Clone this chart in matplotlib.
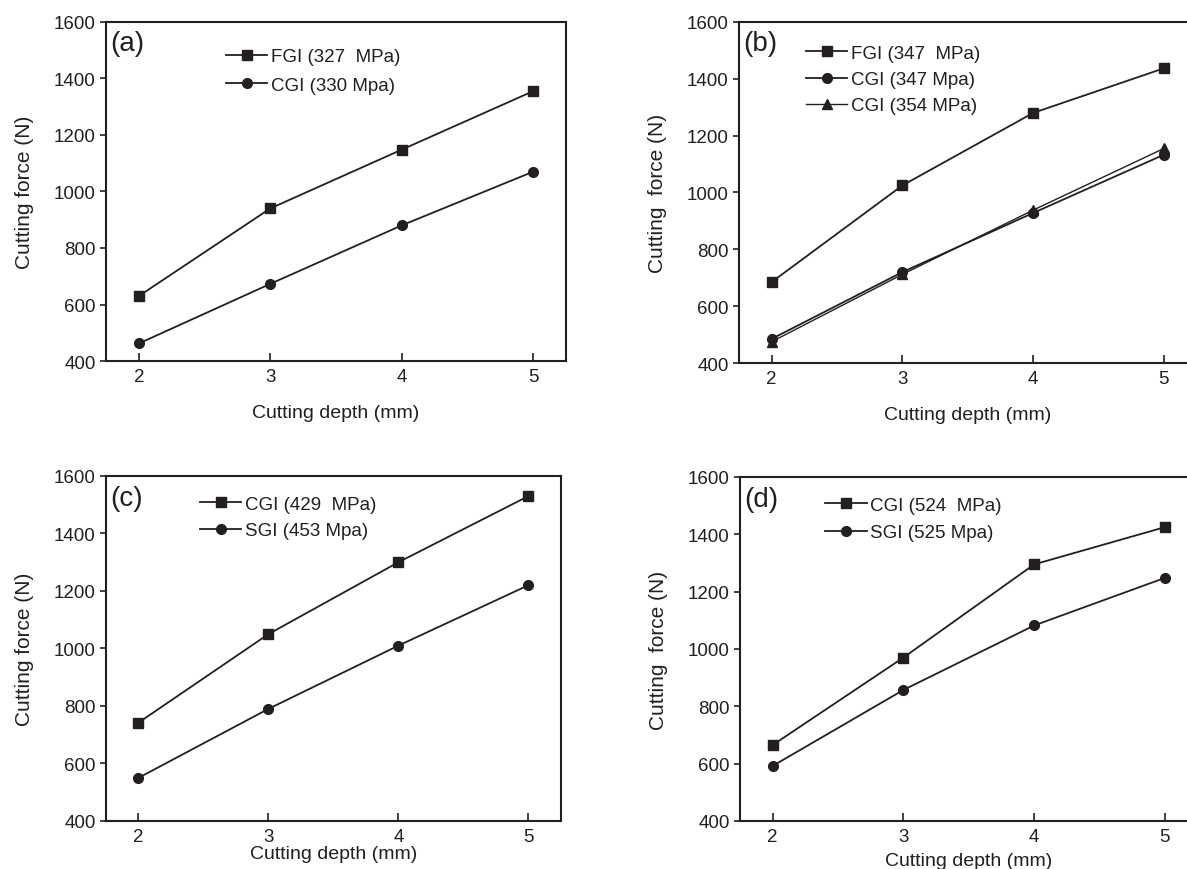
import matplotlib.pyplot as plt

plt.rcParams['font.family'] = ['Liberation Sans', 'DejaVu Sans']

depth = [2, 3, 4, 5]

# (a)
a_fgi_327 = [630, 940, 1148, 1355]
a_cgi_330 = [462, 673, 880, 1070]
# (b)
b_fgi_347 = [685, 1025, 1280, 1437]
b_cgi_347 = [485, 720, 928, 1133]
b_cgi_354 = [475, 712, 938, 1155]
# (c)
c_cgi_429 = [742, 1050, 1300, 1530]
c_sgi_453 = [550, 790, 1010, 1220]
# (d)
d_cgi_524 = [665, 970, 1295, 1425]
d_sgi_525 = [592, 857, 1082, 1248]

ink = '#231f20'

fig = plt.figure(figsize=(11.87, 8.70), dpi=100)

panels = [
    ('(a)', [0.0893, 0.5839, 0.3875, 0.3897], 'Cutting force (N)',
     [(a_fgi_327, 's', 'FGI (327  MPa)'), (a_cgi_330, 'o', 'CGI (330 Mpa)')],
     (0.245, 0.945), 14, 0.6),
    ('(b)', [0.6226, 0.5816, 0.3855, 0.3920], 'Cutting  force (N)',
     [(b_fgi_347, 's', 'FGI (347  MPa)'), (b_cgi_347, 'o', 'CGI (347 Mpa)'),
      (b_cgi_354, '^', 'CGI (354 MPa)')],
     (0.13, 0.955), 14, 0.48),
    ('(c)', [0.0893, 0.0552, 0.3833, 0.3966], 'Cutting force (N)',
     [(c_cgi_429, 's', 'CGI (429  MPa)'), (c_sgi_453, 'o', 'SGI (453 Mpa)')],
     (0.19, 0.965), 0, 0.5),
    ('(d)', [0.6234, 0.0552, 0.3855, 0.3954], 'Cutting  force (N)',
     [(d_cgi_524, 's', 'CGI (524  MPa)'), (d_sgi_525, 'o', 'SGI (525 Mpa)')],
     (0.17, 0.965), 5, 0.55),
]

for tag, rect, ylab, series, leg_pos, xpad, lspace in panels:
    ax = fig.add_axes(rect)
    for vals, mk, lab in series:
        lw = 1.0 if mk == '^' else 1.3
        ax.plot(depth, vals, color=ink, marker=mk, markersize=7.5 if mk == 's' else 7,
                linewidth=lw, label=lab)
    ax.set_xlim(1.75, 5.25)
    ax.set_ylim(400, 1600)
    ax.set_xticks(depth)
    ax.set_yticks(range(400, 1601, 200))
    ax.tick_params(axis='x', direction='in', length=6, width=1.2, labelsize=13.5,
                   colors=ink, pad=5)
    ax.tick_params(axis='y', direction='out', length=4, width=1.2, labelsize=13.5,
                   colors=ink)
    for sp in ax.spines.values():
        sp.set_linewidth(1.5)
        sp.set_color(ink)
    ax.set_xlabel('Cutting depth (mm)', fontsize=14, color=ink, labelpad=xpad)
    ax.set_ylabel(ylab, fontsize=15, color=ink, labelpad=14)
    ax.text(0.01, 0.975, tag, transform=ax.transAxes, fontsize=20,
            color=ink, va='top', ha='left')
    ax.legend(loc='upper left', bbox_to_anchor=leg_pos, frameon=False,
              fontsize=13.5, handlelength=2.2, handletextpad=0.2,
              labelspacing=lspace, borderaxespad=0.0, labelcolor=ink)

fig.savefig('out.png', dpi=100)
